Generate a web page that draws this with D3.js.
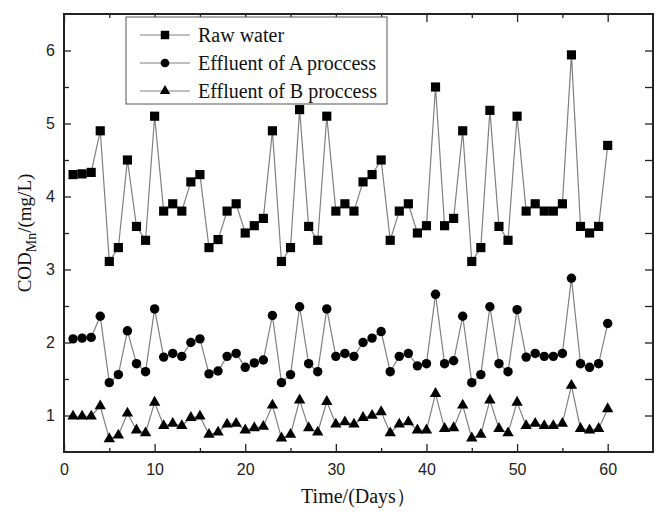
<!DOCTYPE html>
<html>
<head>
<meta charset="utf-8">
<script src="https://cdn.jsdelivr.net/npm/d3@7"></script>
<style>
  body { margin: 0; background: #fff; }
  svg { display: block; }
</style>
</head>
<body>
<div id="chart"></div>
<script>
// days of sampling
let days = [1,2,3,4,5,6,7,8,9,10,11,12,13,14,15,16,17,18,19,20,
  21,22,23,24,25,26,27,28,29,30,31,32,33,34,35,36,37,38,39,40,
  41,42,43,44,45,46,47,48,49,50,51,52,53,54,55,56,57,58,59,60];

let rawWater = [4.30,4.31,4.33,4.90,3.11,3.30,4.50,3.59,3.40,5.10,
  3.80,3.90,3.80,4.20,4.30,3.30,3.41,3.80,3.90,3.50,
  3.60,3.70,4.90,3.11,3.30,5.19,3.59,3.40,5.10,3.80,
  3.90,3.80,4.20,4.30,4.50,3.40,3.80,3.90,3.50,3.60,
  5.50,3.60,3.70,4.90,3.11,3.30,5.18,3.59,3.40,5.10,
  3.80,3.90,3.80,3.80,3.90,5.94,3.59,3.50,3.59,4.70];

let effluentA = [2.05,2.06,2.07,2.36,1.45,1.56,2.16,1.71,1.60,2.46,
  1.80,1.85,1.81,2.00,2.05,1.57,1.61,1.81,1.85,1.66,
  1.72,1.76,2.37,1.45,1.56,2.49,1.71,1.60,2.46,1.81,
  1.85,1.81,2.00,2.06,2.15,1.60,1.81,1.85,1.68,1.71,
  2.66,1.71,1.75,2.36,1.45,1.56,2.49,1.71,1.60,2.45,
  1.80,1.85,1.81,1.81,1.85,2.88,1.71,1.66,1.71,2.26];

let effluentB = [0.99,0.99,0.99,1.13,0.68,0.73,1.03,0.80,0.76,1.18,
  0.86,0.89,0.86,0.97,0.99,0.74,0.77,0.88,0.89,0.80,
  0.83,0.85,1.14,0.69,0.74,1.21,0.83,0.77,1.19,0.88,
  0.91,0.88,0.97,1.00,1.05,0.76,0.88,0.91,0.80,0.80,
  1.30,0.82,0.83,1.14,0.69,0.74,1.21,0.82,0.76,1.18,
  0.86,0.89,0.86,0.86,0.89,1.41,0.82,0.80,0.82,1.09];

let seriesNames = ["Raw water", "Effluent of A proccess", "Effluent of B proccess"];

let xMajor = [0, 10, 20, 30, 40, 50, 60];
let xMinor = [5, 15, 25, 35, 45, 55];
let yMajor = [1, 2, 3, 4, 5, 6];
let yMinor = [1.5, 2.5, 3.5, 4.5, 5.5];

let width = 656,
  height = 514,
  plot = {"left": 64, "right": 653, "top": 14, "bottom": 452};

let x = d3.scaleLinear().domain([0, 65]).range([plot.left, plot.right]);
let y = d3.scaleLinear().domain([0.5, 6.5]).range([plot.bottom, plot.top]);

const svg = d3.select("#chart")
  .append("svg")
  .attr("width", width)
  .attr("height", height);

let axisColor = "#222";
let lineColor = "#808080";
let serif = "'Liberation Serif', 'Times New Roman', serif";

// frame axes with inward ticks
function styleAxis(g, hideText) {
  g.select(".domain").remove();
  g.selectAll(".tick line").attr("stroke", axisColor).attr("stroke-width", 1.3);
  g.selectAll(".tick text")
    .attr("fill", axisColor)
    .style("font-family", "'Liberation Sans', Arial, sans-serif")
    .style("font-size", "16px");
  if (hideText) g.selectAll(".tick text").remove();
}

svg.append("g")
  .attr("transform", "translate(0," + plot.bottom + ")")
  .call(d3.axisBottom(x).tickValues(xMajor).tickSize(-8).tickPadding(12).tickFormat(d3.format("d")))
  .call(g => styleAxis(g, false));
svg.append("g")
  .attr("transform", "translate(0," + plot.bottom + ")")
  .call(d3.axisBottom(x).tickValues(xMinor).tickSize(-4))
  .call(g => styleAxis(g, true));
svg.append("g")
  .attr("transform", "translate(0," + plot.top + ")")
  .call(d3.axisTop(x).tickValues(xMajor).tickSize(-8))
  .call(g => styleAxis(g, true));
svg.append("g")
  .attr("transform", "translate(0," + plot.top + ")")
  .call(d3.axisTop(x).tickValues(xMinor).tickSize(-4))
  .call(g => styleAxis(g, true));

svg.append("g")
  .attr("transform", "translate(" + plot.left + ",0)")
  .call(d3.axisLeft(y).tickValues(yMajor).tickSize(-7).tickPadding(9).tickFormat(d3.format("d")))
  .call(g => styleAxis(g, false));
svg.append("g")
  .attr("transform", "translate(" + plot.left + ",0)")
  .call(d3.axisLeft(y).tickValues(yMinor).tickSize(-5))
  .call(g => styleAxis(g, true));
svg.append("g")
  .attr("transform", "translate(" + plot.right + ",0)")
  .call(d3.axisRight(y).tickValues(yMajor.concat(yMinor)).tickSize(-8))
  .call(g => styleAxis(g, true));

svg.append("rect")
  .attr("x", plot.left)
  .attr("y", plot.top)
  .attr("width", plot.right - plot.left)
  .attr("height", plot.bottom - plot.top)
  .attr("fill", "none")
  .attr("stroke", axisColor)
  .attr("stroke-width", 2);

// series
let series = [
  {name: seriesNames[0], values: rawWater, symbol: d3.symbolSquare, size: 84},
  {name: seriesNames[1], values: effluentA, symbol: d3.symbolCircle, size: 70},
  {name: seriesNames[2], values: effluentB, symbol: d3.symbolTriangle, size: 56}
];

let line = d3.line()
  .x((d) => x(d[0]))
  .y((d) => y(d[1]));

series.forEach(function(s) {
  let pts = days.map((d, i) => [d, s.values[i]]);
  svg.append("path")
    .datum(pts)
    .attr("d", line)
    .attr("fill", "none")
    .attr("stroke", lineColor)
    .attr("stroke-width", 1.2);
  svg.append("g")
    .selectAll("path")
    .data(pts)
    .enter()
    .append("path")
    .attr("d", d3.symbol().type(s.symbol).size(s.size))
    .attr("transform", (d) => "translate(" + x(d[0]) + "," + y(d[1]) + ")")
    .attr("fill", "#000");
});

// legend
const legend = svg.append("g").attr("id", "legend");
legend.append("rect")
  .attr("x", 126)
  .attr("y", 17)
  .attr("width", 261)
  .attr("height", 87)
  .attr("fill", "#fff")
  .attr("stroke", "#555")
  .attr("stroke-width", 1);

series.forEach(function(s, i) {
  let ly = 35 + i * 28;
  legend.append("line")
    .attr("x1", 140).attr("x2", 190)
    .attr("y1", ly).attr("y2", ly)
    .attr("stroke", lineColor)
    .attr("stroke-width", 1.2);
  legend.append("path")
    .attr("d", d3.symbol().type(s.symbol).size(s.size * 0.85))
    .attr("transform", "translate(165," + ly + ")")
    .attr("fill", "#000");
  legend.append("text")
    .text(s.name)
    .attr("x", 198)
    .attr("y", ly)
    .attr("dy", "0.33em")
    .attr("fill", "#111")
    .style("font-family", serif)
    .style("font-size", "20px");
});

// axis titles
svg.append("text")
  .text("Time/(Days）")
  .attr("x", (plot.left + plot.right) / 2)
  .attr("y", 503)
  .attr("text-anchor", "middle")
  .attr("fill", "#111")
  .style("font-family", serif)
  .style("font-size", "20px");

const yTitle = svg.append("text")
  .attr("transform", "translate(31," + ((plot.top + plot.bottom) / 2) + ") rotate(-90)")
  .attr("text-anchor", "middle")
  .attr("fill", "#111")
  .style("font-family", serif)
  .style("font-size", "19px");
yTitle.append("tspan").text("COD");
yTitle.append("tspan").text("Mn").attr("dy", 5).style("font-size", "14px");
yTitle.append("tspan").text("/(mg/L)").attr("dy", -5);
</script>
</body>
</html>
